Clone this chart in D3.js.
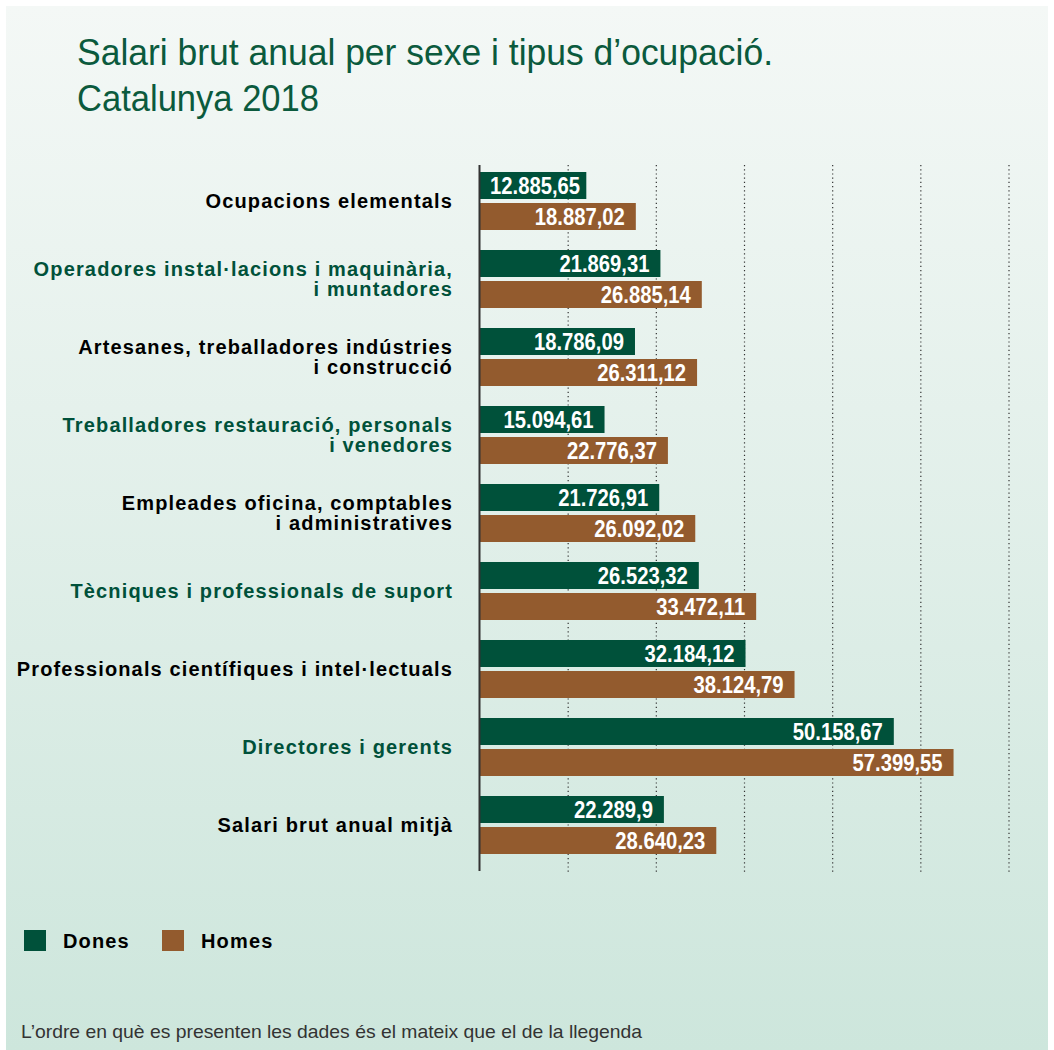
<!DOCTYPE html>
<html>
<head>
<meta charset="utf-8">
<script src="https://cdn.jsdelivr.net/npm/d3@7"></script>
<style>
  html, body { margin: 0; padding: 0; background: #fff; }
  svg { display: block; }
</style>
</head>
<body>
<div id="chart"></div>
<script>
// ---- data ----
var categories = [
  "Ocupacions elementals",
  "Operadores instal\u00b7lacions i maquin\u00e0ria,\ni muntadores",
  "Artesanes, treballadores ind\u00fastries\ni construcci\u00f3",
  "Treballadores restauraci\u00f3, personals\ni venedores",
  "Empleades oficina, comptables\ni administratives",
  "T\u00e8cniques i professionals de suport",
  "Professionals cient\u00edfiques i intel\u00b7lectuals",
  "Directores i gerents",
  "Salari brut anual mitj\u00e0"
];
var series = ["Dones", "Homes"];
var dones = [12885.65, 21869.31, 18786.09, 15094.61, 21726.91, 26523.32, 32184.12, 50158.67, 22289.9];
var homes = [18887.02, 26885.14, 26311.12, 22776.37, 26092.02, 33472.11, 38124.79, 57399.55, 28640.23];
var gridSteps = [1, 2, 3, 4, 5, 6];

var width = 1054, height = 1050,
    x0 = 480,
    green = "#00513a",
    brown = "#935b2e",
    sans = "'Liberation Sans', Arial, Helvetica, sans-serif",
    squeeze = 0.88;   // value labels are set in a condensed face

var locale = d3.formatLocale({decimal: ",", thousands: ".", grouping: [3], currency: ["", ""]}),
    fmt = locale.format(",.2~f");

var svg = d3.select("#chart").append("svg")
    .attr("width", width)
    .attr("height", height)
    .style("font-family", sans);

// background panel with vertical gradient
var grad = svg.append("defs").append("linearGradient")
    .attr("id", "bg").attr("x1", 0).attr("y1", 0).attr("x2", 0).attr("y2", 1);
grad.append("stop").attr("offset", 0).attr("stop-color", "#f4f8f6");
grad.append("stop").attr("offset", 1).attr("stop-color", "#cde6dc");

svg.append("rect")
    .attr("x", 6).attr("y", 6)
    .attr("width", width - 12).attr("height", height - 6)
    .attr("fill", "url(#bg)");

// title (condensed look via textLength)
var title = svg.append("g")
    .attr("fill", "#0b5a3d")
    .style("font-size", "37px");
title.append("text").attr("x", 77).attr("y", 65)
    .attr("textLength", 696).attr("lengthAdjust", "spacingAndGlyphs")
    .text("Salari brut anual per sexe i tipus d\u2019ocupaci\u00f3.");
title.append("text").attr("x", 77).attr("y", 111)
    .attr("textLength", 242).attr("lengthAdjust", "spacingAndGlyphs")
    .text("Catalunya 2018");

// scales
var x = d3.scaleLinear().domain([0, 60000]).range([x0, x0 + 495]);
var gx = d3.scaleLinear().domain([0, 6]).range([x0, 1009]);
var y = d3.scaleBand().domain(categories).range([162, 162 + 78 * 9])
    .paddingInner(20 / 78).paddingOuter(10 / 78);
var ys = d3.scaleBand().domain(series).range([0, y.bandwidth()]).paddingInner(4 / 31);
var color = d3.scaleOrdinal().domain(series).range([green, brown]);

// dotted gridlines
svg.append("g").selectAll("line")
    .data(gridSteps)
  .join("line")
    .attr("x1", function(d) { return gx(d); })
    .attr("x2", function(d) { return gx(d); })
    .attr("y1", 165).attr("y2", 873)
    .attr("stroke", "#333")
    .attr("stroke-width", 1.2)
    .attr("stroke-dasharray", "1.2,3");

// bars
var rows = categories.map(function(c, i) {
  return {cat: c, i: i, values: [{s: "Dones", v: dones[i]}, {s: "Homes", v: homes[i]}]};
});

var group = svg.append("g").selectAll("g")
    .data(rows)
  .join("g")
    .attr("transform", function(d) { return "translate(0," + y(d.cat) + ")"; });

group.selectAll("rect")
    .data(function(d) { return d.values; })
  .join("rect")
    .attr("x", x0)
    .attr("y", function(d) { return ys(d.s); })
    .attr("width", function(d) { return x(d.v) - x0; })
    .attr("height", ys.bandwidth())
    .attr("fill", function(d) { return color(d.s); });

group.selectAll("text.val")
    .data(function(d) { return d.values; })
  .join("text")
    .attr("class", "val")
    .attr("fill", "#fff")
    .attr("text-anchor", "end")
    .style("font-weight", "bold")
    .style("font-size", "23px")
    .text(function(d) { return fmt(d.v); })
    .attr("transform", function(d) {
      var w = this.getComputedTextLength() * squeeze,
          tx = Math.max(x(d.v) - 11, x0 + 10 + w);
      return "translate(" + tx + "," + (ys(d.s) + 22) + ")scale(" + squeeze + ",1)";
    });

// category labels
group.append("text")
    .attr("text-anchor", "end")
    .attr("fill", function(d) { return d.i % 2 ? green : "#000"; })
    .style("font-weight", "bold")
    .style("font-size", "20px")
    .style("letter-spacing", "1.15px")
    .each(function(d) {
      var lines = d.cat.split("\n"),
          mid = y.bandwidth() / 2 + 7 - (lines.length - 1) * 10;
      d3.select(this).selectAll("tspan")
          .data(lines)
        .join("tspan")
          .attr("x", 453)
          .attr("y", function(l, k) { return mid + k * 20; })
          .text(function(l) { return l; });
    });

// axis line
svg.append("line")
    .attr("x1", x0 - 0.5).attr("x2", x0 - 0.5)
    .attr("y1", 165).attr("y2", 871)
    .attr("stroke", "#333")
    .attr("stroke-width", 2);

// legend
var legend = svg.append("g").selectAll("g")
    .data(series)
  .join("g")
    .attr("transform", function(d, i) { return "translate(" + (24 + i * 138) + ",930)"; });

legend.append("rect")
    .attr("width", 22).attr("height", 21)
    .attr("fill", function(d) { return color(d); });

legend.append("text")
    .attr("x", 39).attr("y", 17.5)
    .attr("fill", "#000")
    .style("font-weight", "bold")
    .style("font-size", "20px")
    .style("letter-spacing", "1.15px")
    .text(function(d) { return d; });

// footnote
svg.append("text")
    .attr("x", 21).attr("y", 1038)
    .attr("fill", "#333")
    .style("font-size", "18.5px")
    .attr("textLength", 621).attr("lengthAdjust", "spacingAndGlyphs")
    .text("L\u2019ordre en qu\u00e8 es presenten les dades \u00e9s el mateix que el de la llegenda");
</script>
</body>
</html>
